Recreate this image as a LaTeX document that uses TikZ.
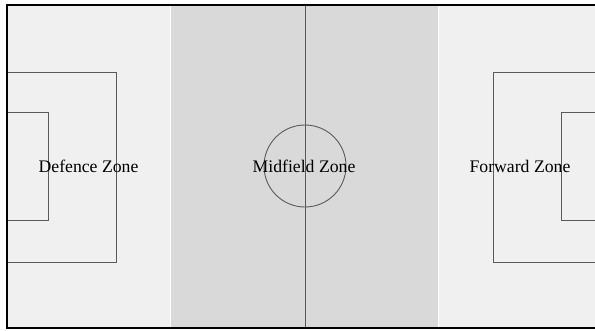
\documentclass[tikz,border=0pt]{standalone}
\usepackage{fontspec}
\setmainfont{Liberation Serif}
\usetikzlibrary{positioning}
\definecolor{zonelight}{HTML}{F0F0F0}
\definecolor{zonedark}{HTML}{D9D9D9}
\definecolor{markgray}{HTML}{5A5A5A}

\begin{document}
\begin{tikzpicture}[x=1pt,y=-1pt,node distance=0pt,
  zone/.style={draw=white,line width=0.6pt,fill=zonelight,inner sep=0pt,outer sep=0pt,minimum height=323pt},
  pitchline/.style={draw=markgray,line width=0.9pt},
  lbl/.style={font=\fontsize{17.7}{20}\selectfont,inner sep=0pt}]
  \useasboundingbox (0,0) rectangle (595,330);
  \clip (0,0) rectangle (595,330);
  % zones
  \node[zone,minimum width=163pt] (def) at (88.5,166.5) {};
  \node[zone,fill=zonedark,minimum width=268pt,right=of def] (mid) {};
  \node[zone,minimum width=164pt,right=of mid] (fwd) {};
  % pitch markings
  \draw[pitchline] (7,72) rectangle (116,262);
  \draw[pitchline] (7,112) rectangle (48,220);
  \draw[pitchline] (493,72) rectangle (602,262);
  \draw[pitchline] (561,112) rectangle (602,220);
  \coordinate (top) at (305,5);
  \coordinate (bot) at (305,328);
  \draw[pitchline] (top) -- (bot);
  \node[pitchline,circle,minimum size=82pt,inner sep=0pt] (spot) at (305,166) {};
  % labels
  \node[lbl] (deflbl) at (def) {Defence Zone};
  \node[lbl] (midlbl) at (mid) {Midfield Zone};
  \node[lbl] (fwdlbl) at (fwd) {Forward Zone};
  % outline
  \draw[black,line width=1.3pt] (7,5) rectangle (602,328);
\end{tikzpicture}
\end{document}
